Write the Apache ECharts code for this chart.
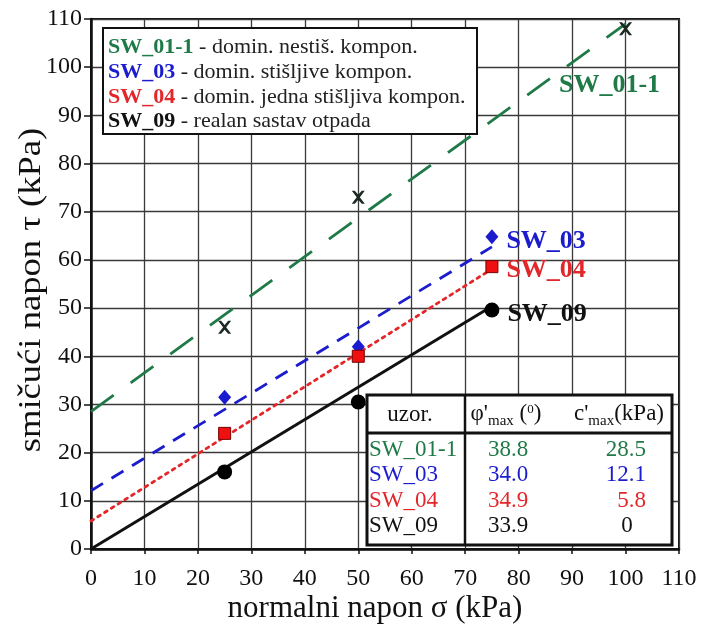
<!DOCTYPE html>
<html><head><meta charset="utf-8">
<script src="https://cdn.jsdelivr.net/npm/echarts@6/dist/echarts.min.js"></script>
<style>html,body{margin:0;padding:0;background:#fff}#c{width:705px;height:627px}</style>
</head><body><div id="c"></div>
<script>
// ---- data ----
const xTicks = [0,10,20,30,40,50,60,70,80,90,100,110];
const sigma = [25, 50, 75];
const sw011Points = [[25,46],[50,73],[100,108]];
const sw03Values = [31.5, 42, 64.8];
const sw04Values = [24, 40, 58.6];
const sw09Values = [16, 30.5, 49.6];
const sw011Line = [[0,28.5],[100,109]];
const sw03Line = [[0,12.1],[75,62.7]];
const sw04Line = [[0,5.8],[75,58.1]];
const sw09Line = [[0,0],[75,50.4]];
const sampleNames = ['SW_01-1','SW_03','SW_04','SW_09'];
const legendDesc = ['domin. nestiš. kompon.','domin. stišljive kompon.','domin. jedna stišljiva kompon.','realan sastav otpada'];
const phiMax = ['38.8','34.0','34.9','33.9'];
const cMax = ['28.5','12.1','5.8','0'];
const xTitle = 'normalni napon σ (kPa)';
const yTitle = 'smičući napon τ (kPa)';

const GREEN = '#1f7a47', BLUE = '#1c1ccf', RED = '#e3262a', BLACK = '#111';
const colors = [GREEN, BLUE, RED, BLACK];
const FONT = 'Liberation Serif';

const chart = echarts.init(document.getElementById('c'));
const crossPath = 'path://M0,0 L2.3,0 L5,3.1 L7.7,0 L10,0 L6.2,5 L10,10 L7.7,10 L5,6.9 L2.3,10 L0,10 L3.8,5 Z';

function pts(vals){ return vals.map((v,i)=>[sigma[i], v]); }
function lastLabel(data, color){
  return data.map((d,i)=> i===data.length-1 ? {value:d, label:{show:true, position:'right', distance:8, offset:[0,4], formatter:p=>p.seriesName, color:color, opacity:1, fontFamily:FONT, fontWeight:'bold', fontSize:26}} : {value:d});
}

// table graphic
const tX = 367, tY = 395, tW = 305, tH = 150, hH = 38, colX = 465;
const rowY = [450, 475, 501, 526];
const TF = 23;
const tbl = [
  {type:'rect', shape:{x:tX, y:tY, width:tW, height:tH}, style:{fill:'#fff', stroke:'#111', lineWidth:3}, z:100},
  {type:'line', shape:{x1:tX, y1:tY+hH, x2:tX+tW, y2:tY+hH}, style:{stroke:'#111', lineWidth:3}, z:101},
  {type:'line', shape:{x1:colX, y1:tY, x2:colX, y2:tY+tH}, style:{stroke:'#111', lineWidth:2.5}, z:101},
  {type:'text', x:410, y:tY+hH/2+1, style:{text:'uzor.', fill:'#111', font:TF+'px '+FONT, textAlign:'center', textVerticalAlign:'middle'}, z:102},
  {type:'text', x:506, y:tY+hH/2, style:{text:"φ'{sub|max} ({sup|0})", fill:'#111', fontFamily:FONT, fontSize:TF, align:'center', verticalAlign:'middle',
     rich:{sub:{fontSize:15, fontFamily:FONT, padding:[14,0,0,0], fill:'#111'}, sup:{fontSize:13, fontFamily:FONT, padding:[0,0,9,0], fill:'#111'}}}, z:102},
  {type:'text', x:619, y:tY+hH/2, style:{text:"c'{sub|max}(kPa)", fill:'#111', fontFamily:FONT, fontSize:TF, align:'center', verticalAlign:'middle',
     rich:{sub:{fontSize:15, fontFamily:FONT, padding:[14,0,0,0], fill:'#111'}}}, z:102}
];
sampleNames.forEach((n,i)=>{
  tbl.push({type:'text', x:369, y:rowY[i], style:{text:n, fill:colors[i], font:TF+'px '+FONT, textAlign:'left', textVerticalAlign:'middle'}, z:102});
  tbl.push({type:'text', x:508, y:rowY[i], style:{text:phiMax[i], fill:colors[i], font:TF+'px '+FONT, textAlign:'center', textVerticalAlign:'middle'}, z:102});
  if (cMax[i]==='0') tbl.push({type:'text', x:627, y:rowY[i], style:{text:cMax[i], fill:colors[i], font:TF+'px '+FONT, textAlign:'center', textVerticalAlign:'middle'}, z:102});
  else tbl.push({type:'text', x:646, y:rowY[i], style:{text:cMax[i], fill:colors[i], font:TF+'px '+FONT, textAlign:'right', textVerticalAlign:'middle'}, z:102});
});
// legend box
const leg = [{type:'rect', shape:{x:103, y:28, width:374, height:106}, style:{fill:'#fff', stroke:'#111', lineWidth:2}, z:100}];
const legY = [47, 72, 97, 121];
sampleNames.forEach((n,i)=>{
  leg.push({type:'text', x:108, y:legY[i], style:{text:'{n|'+n+'} - '+legendDesc[i], fontFamily:FONT, fontSize:22, fill:'#222', verticalAlign:'middle', align:'left',
     rich:{n:{fontFamily:FONT, fontSize:22, fontWeight:'bold', fill:colors[i]}}}, z:102});
});
// axis titles
const titles = [
  {type:'text', x:375, y:609, style:{text:xTitle, fill:'#111', font:'31px '+FONT, textAlign:'center', textVerticalAlign:'middle'}, z:50},
  {type:'text', x:32, y:290, rotation:Math.PI/2, scaleX:1.18, style:{text:yTitle, fill:'#111', font:'31px '+FONT, textAlign:'center', textVerticalAlign:'middle'}, z:50}
];

const option = {
  backgroundColor:'#fff',
  animation:false,
  grid:{left:91, right:26, top:19, bottom:78, show:true, borderColor:'#111', borderWidth:2},
  xAxis:{type:'value', min:0, max:110, interval:10,
    axisLine:{show:true, lineStyle:{color:'#111', width:2.5}},
    axisTick:{show:true, inside:false, length:5, lineStyle:{color:'#111', width:1.5}},
    axisLabel:{fontFamily:FONT, fontSize:24, color:'#111', margin:18, showMaxLabel:true},
    splitLine:{show:true, lineStyle:{color:'#3a3a3a', width:1.3}}},
  yAxis:{type:'value', min:0, max:110, interval:10,
    axisLine:{show:true, lineStyle:{color:'#111', width:2.5}},
    axisTick:{show:true, inside:false, length:7, lineStyle:{color:'#111', width:1.5}},
    axisLabel:{fontFamily:FONT, fontSize:24, color:'#111', margin:9},
    splitLine:{show:true, lineStyle:{color:'#3a3a3a', width:1.3}}},
  series:[
    {name:'SW_01-1', type:'line', data:sw011Line, showSymbol:false, z:3,
      lineStyle:{color:GREEN, width:2.8, type:[28,21]},
      markPoint:{symbolSize:0, data:[{coord:[97,96.3], value:'SW_01-1'}],
        label:{show:true, formatter:'SW_01-1', color:GREEN, fontFamily:FONT, fontWeight:'bold', fontSize:26, position:'inside'}}},
    {name:'SW_03', type:'line', data:sw03Line, showSymbol:false, z:3, lineStyle:{color:BLUE, width:2.8, type:[14,10]}},
    {name:'SW_04', type:'line', data:sw04Line, showSymbol:false, z:3, lineStyle:{color:RED, width:2.8, type:[3,5], cap:'round'}},
    {name:'SW_09', type:'line', data:sw09Line, showSymbol:false, z:3, lineStyle:{color:BLACK, width:3}},
    {name:'SW_01-1', type:'scatter', data:sw011Points, symbol:crossPath, symbolSize:13, z:5, itemStyle:{color:'#1a2a20', opacity:1}},
    {name:'SW_03', type:'scatter', data:lastLabel(pts(sw03Values), BLUE), symbol:'diamond', symbolSize:[13,15], z:5, itemStyle:{color:BLUE, opacity:1}},
    {name:'SW_04', type:'scatter', data:lastLabel(pts(sw04Values), RED), symbol:'rect', symbolSize:12, z:5, itemStyle:{color:'#f01010', borderColor:'#700', borderWidth:1, opacity:1}},
    {name:'SW_09', type:'scatter', data:lastLabel(pts(sw09Values), BLACK), symbol:'circle', symbolSize:15, z:5, itemStyle:{color:'#000', opacity:1}}
  ],
  graphic: leg.concat(tbl).concat(titles)
};
chart.setOption(option);
</script></body></html>
